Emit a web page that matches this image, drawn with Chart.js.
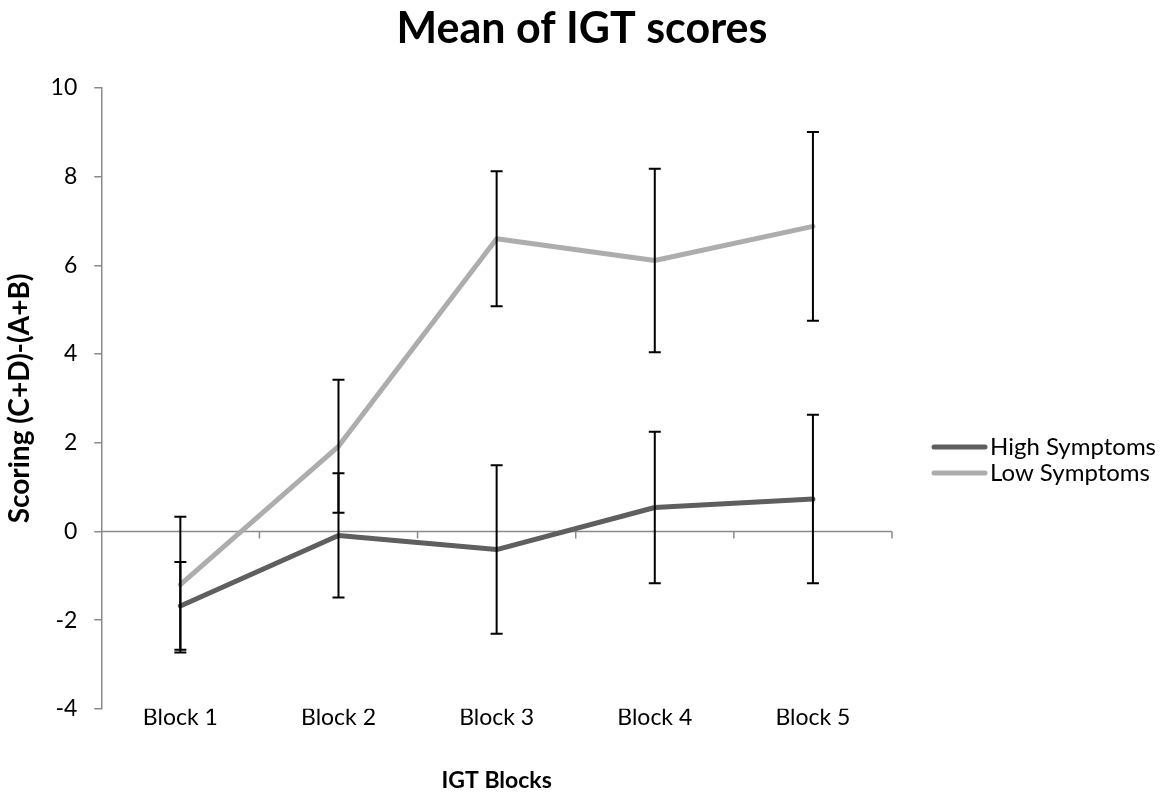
<!DOCTYPE html>
<html>
<head>
<meta charset="utf-8">
<title>Mean of IGT scores</title>
<script src="https://cdn.jsdelivr.net/npm/chart.js@4.4.0/dist/chart.umd.min.js"></script>
<style>
  html, body { margin: 0; padding: 0; background: #ffffff; }
  #wrap { width: 1170px; height: 794px; }
</style>
</head>
<body>
<div id="wrap"><canvas id="chart" width="1170" height="794"></canvas></div>
<script>
// IGT block means and error-bar half-widths per group
const blocks = ['Block 1', 'Block 2', 'Block 3', 'Block 4', 'Block 5'];
const highMean = [-1.68, -0.09, -0.41, 0.54, 0.73];
const highErr  = [0.99, 1.40, 1.90, 1.71, 1.90];
const lowMean  = [-1.20, 1.92, 6.60, 6.11, 6.88];
const lowErr   = [1.53, 1.50, 1.52, 2.07, 2.13];
const yMin = -4, yMax = 10, yStep = 2;
const chartTitle = 'Mean of IGT scores';

const FONT = 'Lato, "Open Sans", sans-serif';
const AXIS_GREY = '#8a8a8a';

// chart title centred across the full canvas width
const canvasTitle = {
  id: 'canvasTitle',
  afterDraw(chart) {
    const { ctx, width } = chart;
    ctx.save();
    ctx.font = 'bold 43px ' + FONT;
    ctx.fillStyle = '#000000';
    ctx.textAlign = 'center';
    ctx.textBaseline = 'middle';
    ctx.fillText(chartTitle, width / 2 - 3, 29);
    ctx.restore();
  }
};

// vertical error bars with flat caps
const errorBars = {
  id: 'errorBars',
  afterDatasetsDraw(chart) {
    const { ctx, scales: { x, y } } = chart;
    ctx.save();
    ctx.strokeStyle = '#000000';
    ctx.lineWidth = 2;
    chart.data.datasets.forEach(ds => {
      const err = ds.errors || [];
      ds.data.forEach((v, i) => {
        const px = x.getPixelForValue(i);
        const top = y.getPixelForValue(v + err[i]);
        const bot = y.getPixelForValue(v - err[i]);
        ctx.beginPath();
        ctx.moveTo(px, top); ctx.lineTo(px, bot);
        ctx.moveTo(px - 6, top); ctx.lineTo(px + 6, top);
        ctx.moveTo(px - 6, bot); ctx.lineTo(px + 6, bot);
        ctx.stroke();
      });
    });
    ctx.restore();
  }
};

// horizontal axis line at zero with tick marks between categories
const zeroAxis = {
  id: 'zeroAxis',
  beforeDatasetsDraw(chart) {
    const { ctx, chartArea, scales: { x, y } } = chart;
    const y0 = y.getPixelForValue(0);
    ctx.save();
    ctx.strokeStyle = AXIS_GREY;
    ctx.lineWidth = 1.5;
    ctx.beginPath();
    ctx.moveTo(chartArea.left, y0);
    ctx.lineTo(chartArea.right, y0);
    const n = chart.data.labels.length;
    for (let i = 0; i < n; i++) {
      const bx = i < n - 1
        ? (x.getPixelForValue(i) + x.getPixelForValue(i + 1)) / 2
        : chartArea.right;
      ctx.moveTo(bx, y0);
      ctx.lineTo(bx, y0 + 7);
    }
    ctx.stroke();
    ctx.restore();
  }
};

// legend to the right of the plot
const sideLegend = {
  id: 'sideLegend',
  afterDraw(chart) {
    const { ctx, chartArea } = chart;
    const x0 = chartArea.right + 40;
    let yc = chartArea.top + 359;
    ctx.save();
    ctx.font = '24px ' + FONT;
    ctx.textBaseline = 'middle';
    ctx.textAlign = 'left';
    chart.data.datasets.forEach(ds => {
      ctx.strokeStyle = ds.borderColor;
      ctx.lineWidth = 5;
      ctx.lineCap = 'round';
      ctx.beginPath();
      ctx.moveTo(x0 + 2, yc);
      ctx.lineTo(x0 + 53, yc);
      ctx.stroke();
      ctx.fillStyle = '#000000';
      ctx.fillText(ds.label, x0 + 58, yc);
      yc += 26;
    });
    ctx.restore();
  }
};

new Chart(document.getElementById('chart'), {
  type: 'line',
  data: {
    labels: blocks,
    datasets: [
      {
        label: 'High Symptoms',
        data: highMean,
        errors: highErr,
        borderColor: '#5f5f5f',
        backgroundColor: '#5f5f5f',
        borderWidth: 5,
        borderCapStyle: 'round',
        borderJoinStyle: 'round',
        pointRadius: 0,
        tension: 0
      },
      {
        label: 'Low Symptoms',
        data: lowMean,
        errors: lowErr,
        borderColor: '#adadad',
        backgroundColor: '#adadad',
        borderWidth: 5,
        borderCapStyle: 'round',
        borderJoinStyle: 'round',
        pointRadius: 0,
        tension: 0
      }
    ]
  },
  options: {
    responsive: false,
    animation: false,
    layout: { padding: { left: 0, right: 278, top: 88, bottom: 0 } },
    plugins: {
      legend: { display: false },
      tooltip: { enabled: false },
      title: { display: false }
    },
    scales: {
      x: {
        type: 'category',
        offset: true,
        grid: { display: false, drawTicks: false },
        border: { display: false },
        ticks: { color: '#000000', font: { family: FONT, size: 23 }, padding: -5 },
        title: {
          display: true,
          text: 'IGT Blocks',
          color: '#000000',
          font: { family: FONT, size: 23, weight: 'bold' },
          padding: { top: 40, bottom: 0 }
        }
      },
      y: {
        min: yMin,
        max: yMax,
        ticks: { stepSize: yStep, color: '#000000', font: { family: FONT, size: 23 }, padding: 17 },
        grid: { display: true, drawOnChartArea: false, drawTicks: true, tickLength: 7, color: AXIS_GREY, lineWidth: 1.5 },
        border: { display: true, color: AXIS_GREY, width: 1.5 },
        title: {
          display: true,
          text: 'Scoring (C+D)-(A+B)',
          color: '#000000',
          font: { family: FONT, size: 28, weight: 'bold' },
          padding: { top: 3, bottom: -3 }
        }
      }
    }
  },
  plugins: [zeroAxis, errorBars, sideLegend, canvasTitle]
});
</script>
</body>
</html>
